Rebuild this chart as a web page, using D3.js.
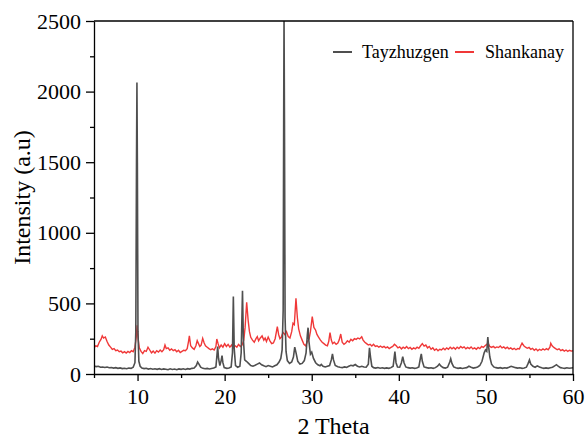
<!DOCTYPE html>
<html>
<head>
<meta charset="utf-8">
<script src="https://cdn.jsdelivr.net/npm/d3@7"></script>
<style>
  body { margin: 0; background: #fff; }
</style>
</head>
<body>
<svg id="chart" width="585" height="439"></svg>
<script>
// series names + colours
const seriesNames = ["Tayzhuzgen", "Shankanay"];
const seriesColors = ["#4f4f4f", "#f03838"];
const serif = "Liberation Serif";

// [2theta, intensity]
const tayzhuzgen = [
  [5.0,58],[5.25,52],[5.5,55],[5.75,48],[6.0,50],[6.25,46],[6.5,49],[6.75,44],[7.0,46],[7.25,42],
  [7.5,45],[7.75,40],[8.0,43],[8.25,38],[8.5,41],[8.75,37],[9.0,42],[9.25,40],[9.5,48],[9.7,80],
  [9.8,300],[9.88,1500],[9.93,2065],[9.98,1500],[10.05,300],[10.15,90],[10.3,55],[10.5,42],[10.75,38],[11.0,41],
  [11.25,35],[11.5,39],[11.75,34],[12.0,37],[12.25,33],[12.5,38],[12.75,32],[13.0,36],[13.25,34],[13.5,30],
  [13.75,37],[14.0,32],[14.25,35],[14.5,30],[14.75,36],[15.0,33],[15.25,37],[15.5,32],[15.75,38],[16.0,35],
  [16.25,40],[16.5,42],[16.75,60],[16.9,85],[17.05,70],[17.25,48],[17.5,40],[17.75,37],[18.0,40],[18.25,36],
  [18.5,39],[18.75,42],[19.0,50],[19.1,120],[19.2,195],[19.3,110],[19.45,60],[19.6,95],[19.7,130],[19.8,80],
  [19.95,45],[20.25,40],[20.5,43],[20.75,50],[20.9,150],[21.0,548],[21.1,180],[21.25,60],[21.5,48],[21.75,55],
  [21.9,150],[22.05,590],[22.15,250],[22.3,100],[22.5,90],[22.75,75],[23.0,60],[23.25,55],[23.5,62],[23.75,70],
  [24.0,78],[24.25,65],[24.5,58],[24.75,52],[25.0,60],[25.25,55],[25.5,50],[25.75,58],[26.0,65],[26.25,85],
  [26.45,110],[26.6,170],[26.72,450],[26.78,1800],[26.82,2560],[26.87,1800],[26.94,400],[27.05,160],[27.2,95],[27.45,75],
  [27.7,85],[27.9,120],[28.05,190],[28.2,150],[28.4,90],[28.65,70],[28.9,75],[29.15,95],[29.35,150],[29.5,280],[29.58,328],
  [29.68,230],[29.85,140],[30.0,155],[30.2,110],[30.45,80],[30.7,65],[30.95,58],[31.1,68],[31.3,55],[31.55,50],
  [31.8,55],[32.05,60],[32.25,100],[32.38,142],[32.5,100],[32.7,60],[33.0,52],[33.25,48],[33.5,45],[33.75,50],
  [34.0,47],[34.25,55],[34.5,62],[34.75,58],[35.0,67],[35.25,55],[35.5,50],[35.75,55],[36.0,50],[36.25,48],
  [36.5,70],[36.63,185],[36.75,120],[36.9,55],[37.1,45],[37.35,42],[37.6,46],[37.85,41],[38.1,44],[38.35,40],
  [38.6,43],[38.85,40],[39.1,45],[39.35,55],[39.55,158],[39.68,80],[39.85,50],[40.1,48],[40.3,80],[40.45,123],
  [40.6,80],[40.8,50],[41.05,45],[41.3,42],[41.55,44],[41.8,40],[42.05,43],[42.3,50],[42.5,120],[42.58,142],
  [42.7,90],[42.9,50],[43.2,45],[43.45,42],[43.7,44],[43.95,40],[44.2,45],[44.45,55],[44.65,70],[44.85,55],
  [45.1,45],[45.35,42],[45.6,48],[45.85,85],[45.96,108],[46.1,75],[46.3,50],[46.55,44],[46.8,40],[47.05,43],
  [47.3,39],[47.55,42],[47.8,45],[48.05,55],[48.3,48],[48.55,42],[48.8,45],[49.05,50],[49.3,60],[49.55,90],
  [49.8,150],[49.95,170],[50.1,160],[50.22,262],[50.32,190],[50.45,120],[50.65,70],[50.9,50],[51.15,45],[51.4,42],
  [51.65,45],[51.9,40],[52.15,44],[52.4,42],[52.65,48],[52.9,55],[53.15,50],[53.4,45],[53.65,42],[53.9,44],
  [54.15,40],[54.4,43],[54.65,48],[54.85,75],[55.0,99],[55.15,70],[55.4,55],[55.65,48],[55.9,58],[56.15,50],
  [56.4,44],[56.65,40],[56.9,43],[57.15,40],[57.4,44],[57.65,48],[57.9,58],[58.1,66],[58.3,55],[58.55,45],
  [58.8,42],[59.05,40],[59.3,44],[59.55,41],[59.8,43],[60.0,44]
];

const shankanay = [
  [5.0,185],[5.2,200],[5.4,195],[5.6,225],[5.8,245],[5.95,270],[6.1,255],[6.3,262],[6.5,230],[6.7,205],
  [6.9,190],[7.1,175],[7.3,180],[7.5,165],[7.7,170],[7.9,158],[8.1,162],[8.3,150],[8.5,158],[8.7,148],
  [8.9,160],[9.1,152],[9.3,165],[9.5,158],[9.7,190],[9.85,260],[9.95,345],[10.05,260],[10.2,185],[10.4,160],
  [10.6,145],[10.8,165],[11.0,160],[11.2,190],[11.4,170],[11.6,150],[11.8,162],[12.0,148],[12.2,165],[12.4,155],
  [12.6,170],[12.8,158],[13.0,172],[13.15,205],[13.3,180],[13.5,185],[13.7,168],[13.9,178],[14.1,165],[14.3,172],
  [14.5,158],[14.7,168],[14.9,152],[15.1,160],[15.3,168],[15.5,165],[15.7,180],[15.85,230],[15.95,270],[16.1,200],
  [16.3,185],[16.5,175],[16.7,200],[16.85,236],[17.0,215],[17.15,195],[17.3,205],[17.48,253],[17.65,220],[17.8,200],
  [18.0,190],[18.2,180],[18.4,172],[18.6,178],[18.8,170],[19.0,195],[19.1,248],[19.25,215],[19.4,185],[19.6,205],
  [19.8,190],[20.0,215],[20.2,195],[20.4,210],[20.6,190],[20.8,205],[21.0,185],[21.2,200],[21.4,190],[21.6,210],
  [21.8,195],[22.0,205],[22.2,240],[22.35,330],[22.53,508],[22.7,380],[22.85,300],[23.0,260],[23.2,240],[23.4,225],
  [23.6,250],[23.75,265],[23.9,235],[24.1,255],[24.3,270],[24.5,240],[24.65,255],[24.8,230],[25.0,262],[25.2,235],
  [25.4,215],[25.6,220],[25.8,250],[26.05,335],[26.2,280],[26.35,250],[26.5,260],[26.7,295],[26.9,280],[27.1,300],
  [27.3,265],[27.5,255],[27.7,300],[27.85,360],[28.0,350],[28.19,536],[28.35,400],[28.5,320],[28.7,270],[28.9,240],
  [29.1,210],[29.3,200],[29.5,230],[29.7,250],[29.85,300],[30.06,406],[30.25,330],[30.45,310],[30.6,280],[30.8,260],
  [31.0,240],[31.2,225],[31.4,215],[31.6,205],[31.8,200],[31.95,230],[32.1,293],[32.25,240],[32.4,215],[32.6,225],
  [32.8,210],[33.0,220],[33.15,240],[33.33,283],[33.5,225],[33.7,210],[33.9,220],[34.1,235],[34.3,225],[34.5,245],
  [34.7,235],[34.9,250],[35.1,245],[35.3,255],[35.5,248],[35.74,264],[35.9,240],[36.1,225],[36.3,215],[36.5,205],
  [36.7,210],[36.9,198],[37.1,210],[37.3,195],[37.5,200],[37.7,190],[37.9,198],[38.1,188],[38.3,195],[38.5,185],
  [38.7,192],[38.9,180],[39.1,188],[39.3,195],[39.5,210],[39.7,200],[39.9,185],[40.1,192],[40.3,178],[40.5,190],
  [40.7,182],[40.9,195],[41.1,180],[41.3,188],[41.5,175],[41.7,185],[41.9,178],[42.1,190],[42.3,182],[42.5,200],
  [42.7,215],[42.9,198],[43.1,205],[43.3,185],[43.5,195],[43.7,175],[43.9,185],[44.1,168],[44.3,178],[44.5,165],
  [44.7,175],[44.9,170],[45.1,182],[45.3,172],[45.5,185],[45.7,175],[45.9,190],[46.1,178],[46.3,188],[46.5,175],
  [46.7,190],[46.9,180],[47.1,195],[47.3,185],[47.5,192],[47.7,178],[47.9,188],[48.1,180],[48.3,192],[48.5,178],
  [48.7,185],[48.9,175],[49.1,188],[49.3,180],[49.5,195],[49.7,188],[49.9,200],[50.1,210],[50.25,218],[50.45,195],
  [50.65,188],[50.85,195],[51.05,185],[51.25,192],[51.45,188],[51.65,198],[51.85,185],[52.05,192],[52.25,180],[52.45,190],
  [52.65,178],[52.85,185],[53.05,175],[53.25,182],[53.45,172],[53.65,180],[53.85,178],[54.0,200],[54.15,218],[54.35,200],
  [54.55,190],[54.75,182],[54.95,188],[55.15,175],[55.35,182],[55.55,168],[55.75,178],[55.95,165],[56.15,175],[56.35,168],
  [56.55,178],[56.75,170],[56.95,180],[57.15,172],[57.35,190],[57.45,218],[57.6,200],[57.8,188],[58.0,180],[58.2,172],
  [58.4,178],[58.6,165],[58.8,172],[59.0,162],[59.2,170],[59.4,160],[59.6,168],[59.8,162],[60.0,165]
];

const xTicks = [10, 20, 30, 40, 50, 60];
const yTicks = [0, 500, 1000, 1500, 2000, 2500];

const svg = d3.select("#chart");
const margin = {left: 94, right: 12, top: 21, bottom: 65};
const W = 585, H = 439;

const x = d3.scaleLinear().domain([5, 60]).range([margin.left, W - margin.right]);
const y = d3.scaleLinear().domain([0, 2500]).range([H - margin.bottom, margin.top]);

svg.append("clipPath").attr("id", "plotclip")
  .append("rect")
  .attr("x", x(5)).attr("y", y(2500))
  .attr("width", x(60) - x(5)).attr("height", y(0) - y(2500));

const line = d3.line().x(d => x(d[0])).y(d => y(d[1]));

// red first so gray sits on top
const plot = svg.append("g").attr("clip-path", "url(#plotclip)");
plot.append("path").datum(shankanay)
  .attr("d", line).attr("fill", "none")
  .attr("stroke", seriesColors[1]).attr("stroke-width", 1.4);
plot.append("path").datum(tayzhuzgen)
  .attr("d", line).attr("fill", "none")
  .attr("stroke", seriesColors[0]).attr("stroke-width", 1.6);

// axes
svg.append("g").attr("transform", `translate(0,${y(0)})`)
  .call(d3.axisBottom(x).tickValues(xTicks).tickSize(7).tickSizeOuter(0).tickPadding(7).tickFormat(d3.format("d")));
svg.append("g").attr("transform", `translate(0,${y(0)})`)
  .call(d3.axisBottom(x).tickValues([5, 15, 25, 35, 45, 55]).tickSize(4).tickFormat(""))
  .select(".domain").remove();

svg.append("g").attr("transform", `translate(${x(5)},0)`)
  .call(d3.axisLeft(y).tickValues(yTicks).tickSize(8).tickSizeOuter(0).tickPadding(5).tickFormat(d3.format("d")));
svg.append("g").attr("transform", `translate(${x(5)},0)`)
  .call(d3.axisLeft(y).tickValues([250, 750, 1250, 1750, 2250]).tickSize(4).tickFormat(""))
  .select(".domain").remove();

svg.selectAll(".tick text").attr("font-family", serif).attr("font-size", 22).attr("fill", "#000");
svg.selectAll(".domain, .tick line").attr("stroke", "#000").attr("stroke-width", 1.3);

// top + right frame
svg.append("line").attr("x1", x(5)).attr("x2", x(60)).attr("y1", y(2500)).attr("y2", y(2500))
  .attr("stroke", "#000").attr("stroke-width", 1.3);
svg.append("line").attr("x1", x(60)).attr("x2", x(60)).attr("y1", y(2500)).attr("y2", y(0))
  .attr("stroke", "#000").attr("stroke-width", 1.3);

// axis titles
svg.append("text").attr("x", (x(5) + x(60)) / 2).attr("y", 434)
  .attr("text-anchor", "middle").attr("font-family", serif).attr("font-size", 24).text("2 Theta");
svg.append("text")
  .attr("transform", `translate(30,${(y(0) + y(2500)) / 2}) rotate(-90)`)
  .attr("text-anchor", "middle").attr("font-family", serif).attr("font-size", 24).text("Intensity (a.u)");

// legend
const legendX = [333, 455];
const legendTextX = [362, 485];
seriesNames.forEach((name, i) => {
  svg.append("line").attr("x1", legendX[i]).attr("x2", legendX[i] + 19)
    .attr("y1", 52).attr("y2", 52)
    .attr("stroke", seriesColors[i]).attr("stroke-width", 2);
  svg.append("text").attr("x", legendTextX[i]).attr("y", 58)
    .attr("font-family", serif).attr("font-size", 18).text(name);
});
</script>
</body>
</html>
